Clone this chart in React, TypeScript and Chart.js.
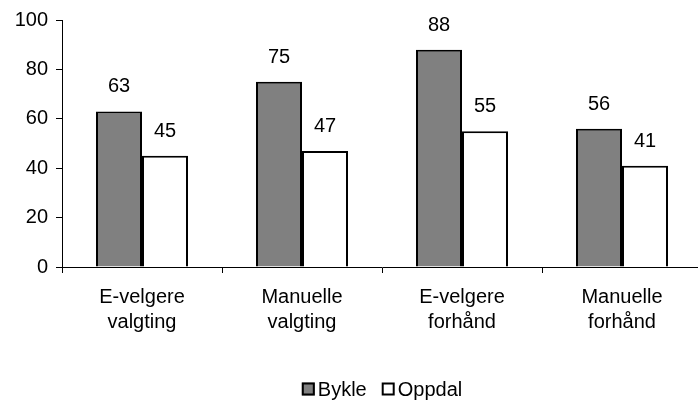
import React, { useEffect, useRef } from "react";
import { Chart, registerables } from "chart.js";

Chart.register(...registerables);

const categories: string[][] = [
  ["E-velgere", "valgting"],
  ["Manuelle", "valgting"],
  ["E-velgere", "forhånd"],
  ["Manuelle", "forhånd"],
];
const bykle: number[] = [63, 75, 88, 56];
const oppdal: number[] = [45, 47, 55, 41];
const yTicks: number[] = [0, 20, 40, 60, 80, 100];

const FONT = '"Liberation Sans", Arial, Helvetica, sans-serif';
const W = 698;
const H = 401;
// The plot runs slightly past the visible edge, so the canvas is a bit wider than its frame
const CANVAS_W = 702;

// Writes each bar's value just above its top edge
const valueLabels = {
  id: "valueLabels",
  afterDatasetsDraw(chart: any) {
    const ctx = chart.ctx;
    ctx.save();
    ctx.font = `20px ${FONT}`;
    ctx.fillStyle = "#000";
    ctx.textAlign = "center";
    ctx.textBaseline = "alphabetic";
    chart.data.datasets.forEach((ds: any, i: number) => {
      const meta = chart.getDatasetMeta(i);
      meta.data.forEach((bar: any, j: number) => {
        ctx.fillText(String(ds.data[j]), bar.x, bar.y - 19);
      });
    });
    ctx.restore();
  },
};

// Compact legend under the plot: square swatch followed closely by the series name
const swatchLegend = {
  id: "swatchLegend",
  afterDraw(chart: any) {
    const ctx = chart.ctx;
    const box = 13;
    const gapText = 3;
    const gapItem = 15;
    const cy = 389;
    ctx.save();
    ctx.font = `20px ${FONT}`;
    const items = chart.data.datasets.map((ds: any) => ({
      text: ds.label,
      fill: ds.backgroundColor,
      width: box + gapText + ctx.measureText(ds.label).width,
    }));
    const total =
      items.reduce((s: number, it: any) => s + it.width, 0) + gapItem * (items.length - 1);
    const area = chart.chartArea;
    let x = (area.left + area.right) / 2 - total / 2;
    items.forEach((it: any) => {
      ctx.fillStyle = it.fill;
      ctx.fillRect(x, cy - box / 2, box, box);
      ctx.strokeStyle = "#000";
      ctx.lineWidth = 2;
      ctx.strokeRect(x + 1, cy - box / 2 + 1, box - 2, box - 2);
      ctx.fillStyle = "#000";
      ctx.textAlign = "left";
      ctx.textBaseline = "middle";
      ctx.fillText(it.text, x + box + gapText, cy + 1);
      x += it.width + gapItem;
    });
    ctx.restore();
  },
};

export default function App() {
  const canvasRef = useRef<HTMLCanvasElement | null>(null);

  useEffect(() => {
    if (!canvasRef.current) return;
    const chart = new Chart(canvasRef.current, {
      type: "bar",
      data: {
        labels: categories,
        datasets: [
          {
            label: "Bykle",
            data: bykle,
            backgroundColor: "#808080",
            borderColor: "#000",
            borderWidth: 2,
            categoryPercentage: 0.575,
            barPercentage: 1,
          },
          {
            label: "Oppdal",
            data: oppdal,
            backgroundColor: "#ffffff",
            borderColor: "#000",
            borderWidth: 2,
            categoryPercentage: 0.575,
            barPercentage: 1,
          },
        ],
      },
      options: {
        responsive: false,
        animation: false,
        devicePixelRatio: 1,
        layout: { padding: { left: 0, top: 20, right: 0, bottom: 0 } },
        plugins: {
          tooltip: { enabled: false },
          legend: { display: false },
        },
        scales: {
          x: {
            grid: {
              display: true,
              offset: true,
              drawOnChartArea: false,
              drawTicks: true,
              tickLength: 6,
              color: "#000",
            },
            border: { display: true, color: "#000", width: 1 },
            ticks: {
              color: "#000",
              font: { family: FONT, size: 20, lineHeight: 1.25 },
              padding: 12,
              maxRotation: 0,
              autoSkip: false,
            },
            afterFit(scale: any) {
              scale.height = 134;
            },
          },
          y: {
            min: 0,
            max: 100,
            afterBuildTicks(scale: any) {
              scale.ticks = yTicks.map((v) => ({ value: v }));
            },
            grid: {
              display: true,
              drawOnChartArea: false,
              drawTicks: true,
              tickLength: 6,
              color: "#000",
            },
            border: { display: true, color: "#000", width: 1 },
            ticks: {
              color: "#000",
              font: { family: FONT, size: 20 },
              padding: 8,
            },
            afterFit(scale: any) {
              scale.width = 62;
            },
          },
        },
      },
      plugins: [valueLabels, swatchLegend],
    });
    return () => chart.destroy();
  }, []);

  return (
    <div
      style={{
        position: "absolute",
        left: 0,
        top: 0,
        width: W,
        height: H,
        overflow: "hidden",
        background: "#fff",
      }}
    >
      <canvas ref={canvasRef} width={CANVAS_W} height={H} style={{ display: "block" }} />
    </div>
  );
}
